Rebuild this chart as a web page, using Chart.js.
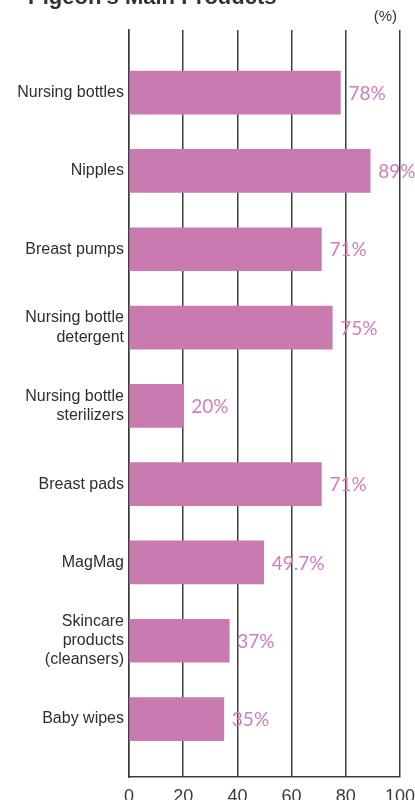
<!DOCTYPE html>
<html>
<head>
<meta charset="utf-8">
<script src="https://cdn.jsdelivr.net/npm/chart.js@4"></script>
<style>
    html, body { margin: 0; padding: 0; background: #fff; overflow: hidden; }
    #wrap { position: relative; width: 415px; height: 800px; }
</style>
</head>
<body>
<div id="wrap"><canvas id="productChart"></canvas></div>
<script>
// Pigeon's main products - share values (%)
const categories = [
    'Nursing bottles',
    'Nipples',
    'Breast pumps',
    ['Nursing bottle', 'detergent'],
    ['Nursing bottle', 'sterilizers'],
    'Breast pads',
    'MagMag',
    ['Skincare', 'products', '(cleansers)'],
    'Baby wipes'
];
const shares = [78, 89, 71, 75, 20, 71, 49.7, 37, 35];
const xTicks = [0, 20, 40, 60, 80, 100];

const titleText = "Pigeon's Main Products";
const unitText = '(%)';

const lineColor = '#3d3d3d';
const barColor = '#c97aae';
const valueColor = '#d57cb9';

// bar value labels + heading texts
const overlayPlugin = {
    id: 'overlay',
    afterDatasetsDraw(chart) {
        const ctx = chart.ctx;
        const meta = chart.getDatasetMeta(0);
        ctx.save();
        ctx.fillStyle = valueColor;
        ctx.font = '19px Lato';
        ctx.textAlign = 'left';
        ctx.textBaseline = 'middle';
        meta.data.forEach((bar, i) => {
            ctx.fillText(shares[i] + '%', bar.x + 8, bar.y + 1);
        });
        ctx.restore();
    },
    afterDraw(chart) {
        const ctx = chart.ctx;
        ctx.save();
        ctx.fillStyle = '#333';
        ctx.textBaseline = 'alphabetic';
        ctx.font = 'bold 22px "Liberation Sans"';
        ctx.textAlign = 'left';
        ctx.fillText(titleText, 28, 4);
        ctx.font = '15px "Liberation Sans"';
        ctx.textAlign = 'right';
        ctx.fillText(unitText, chart.chartArea.right - 3, 21);
        ctx.restore();
    }
};

function buildChart() {
    const ctx = document.getElementById('productChart');
    return new Chart(ctx, {
        type: 'bar',
        data: {
            datasets: [{
                data: shares.map((v, i) => ({ x: v, y: i })),
                backgroundColor: barColor,
                borderWidth: 0,
                barThickness: 43
            }]
        },
        options: {
            indexAxis: 'y',
            responsive: true,
            maintainAspectRatio: false,
            animation: false,
            layout: { padding: { top: 30, left: 0, right: 0, bottom: 0 } },
            plugins: {
                legend: { display: false },
                tooltip: { enabled: false }
            },
            scales: {
                x: {
                    type: 'linear',
                    min: xTicks[0],
                    max: xTicks[xTicks.length - 1],
                    afterBuildTicks(scale) {
                        scale.ticks = xTicks.map(v => ({ value: v }));
                    },
                    afterFit(scale) {
                        scale.height = 23;
                        scale.paddingRight = 15;
                    },
                    grid: { color: lineColor, lineWidth: 1.5, drawTicks: false },
                    border: { display: true, color: lineColor, width: 1.5 },
                    ticks: {
                        padding: 9,
                        color: '#3a3a3a',
                        font: { family: '"Liberation Sans"', size: 18 }
                    }
                },
                y: {
                    type: 'linear',
                    reverse: true,
                    offset: false,
                    min: -0.8,
                    max: 8.74,
                    afterFit(scale) { scale.width = 129; },
                    grid: { display: false, drawTicks: false },
                    border: { display: true, color: lineColor, width: 1.5 },
                    ticks: {
                        stepSize: 1,
                        autoSkip: false,
                        padding: 5,
                        color: '#2e2e2e',
                        font: { family: '"Liberation Sans"', size: 16, lineHeight: 1.2 },
                        callback: (v) => Number.isInteger(v) && categories[v] ? categories[v] : ''
                    }
                }
            }
        },
        plugins: [overlayPlugin]
    });
}

document.addEventListener('DOMContentLoaded', () => {
    buildChart();
});
</script>
</body>
</html>
